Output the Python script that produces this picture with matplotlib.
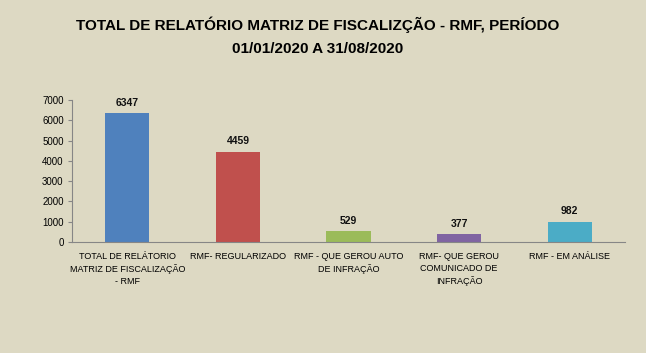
import matplotlib.pyplot as plt

categories = ['TOTAL DE RELÁTORIO\nMATRIZ DE FISCALIZAÇÃO\n- RMF', 'RMF- REGULARIZADO',
              'RMF - QUE GEROU AUTO\nDE INFRAÇÃO', 'RMF- QUE GEROU\nCOMUNICADO DE\nINFRAÇÃO',
              'RMF - EM ANÁLISE']
values = [6347, 4459, 529, 377, 982]
colors = ['#4F81BD', '#C0504D', '#9BBB59', '#8064A2', '#4BACC6']
yticks = [0, 1000, 2000, 3000, 4000, 5000, 6000, 7000]

plt.rcParams['font.family'] = ['Liberation Sans', 'DejaVu Sans']
bg = '#DDD9C3'

fig = plt.figure(figsize=(6.46, 3.53), dpi=100, facecolor=bg)
ax = fig.add_axes([72/646, 1 - 242/353, 553/646, 142/353])
ax.set_facecolor(bg)

x = range(len(categories))
bars = ax.bar(x, values, width=0.4, color=colors)
for xi, v in zip(x, values):
    ax.text(xi, v + 280, str(v), ha='center', va='bottom', fontsize=7.5, fontweight='bold', color='#111111')

ax.set_xlim(-0.5, len(categories) - 0.5)
ax.set_ylim(0, 7000)
ax.set_yticks(yticks)
ax.set_xticks(list(x))
ax.set_xticklabels(categories, fontsize=6.5, linespacing=1.45)
ax.tick_params(axis='y', labelsize=7, length=3, color='#868686', pad=3)
ax.tick_params(axis='x', length=0, pad=7)
for s in ['top', 'right']:
    ax.spines[s].set_visible(False)
for s in ['left', 'bottom']:
    ax.spines[s].set_color('#868686')

fig.text(0.492, 0.953, 'TOTAL DE RELATÓRIO MATRIZ DE FISCALIZÇÃO - RMF, PERÍODO\n01/01/2020 A 31/08/2020',
         ha='center', va='top', fontsize=11, fontweight='bold', linespacing=1.8)

fig.savefig('out.png', dpi=100, facecolor=bg)
